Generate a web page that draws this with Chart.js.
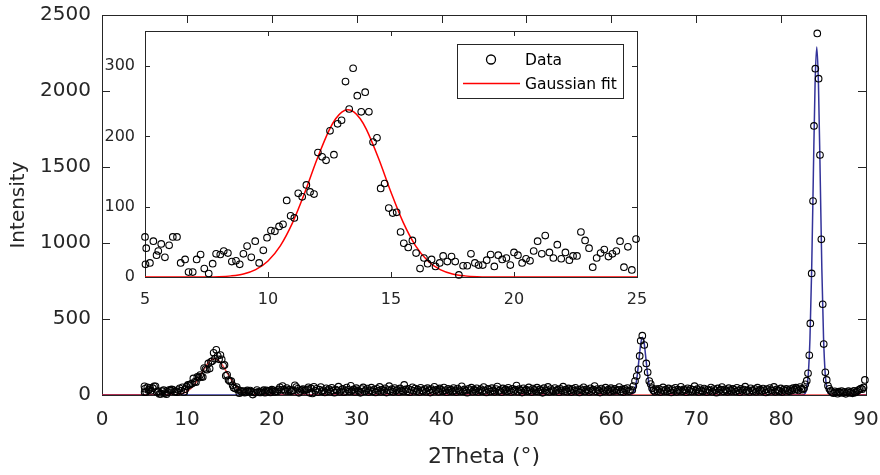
<!DOCTYPE html>
<html>
<head>
<meta charset="utf-8">
<script src="https://cdn.jsdelivr.net/npm/chart.js@4.4.1/dist/chart.umd.min.js"></script>
<style>
  body { margin: 0; background: #fff; }
  #wrap { position: relative; width: 880px; height: 475px; }
  #wrap canvas { position: absolute; left: 0; top: 0; }
</style>
</head>
<body>
<div id="wrap">
  <canvas id="mainChart" width="880" height="475"></canvas>
  <canvas id="insetChart" width="880" height="475"></canvas>
</div>
<script>
// low angle region (also shown in the inset)
var lowTheta = [5.00, 5.02, 5.05, 5.20, 5.34, 5.47, 5.54, 5.66, 5.81, 5.98,
    6.13, 6.30, 6.45, 6.63, 6.77, 6.94, 7.10, 7.26, 7.41, 7.59,
    7.75, 7.89, 8.06, 8.20, 8.37, 8.53, 8.70, 8.85, 9.00, 9.15,
    9.32, 9.48, 9.64, 9.81, 9.96, 10.12, 10.28, 10.45, 10.61, 10.76,
    10.92, 11.07, 11.23, 11.39, 11.56, 11.71, 11.87, 12.03, 12.20, 12.36,
    12.52, 12.68, 12.83, 12.99, 13.15, 13.30, 13.46, 13.63, 13.79, 13.95,
    14.10, 14.27, 14.43, 14.58, 14.74, 14.91, 15.07, 15.23, 15.39, 15.52,
    15.70, 15.87, 16.02, 16.18, 16.34, 16.49, 16.65, 16.81, 16.98, 17.12,
    17.29, 17.46, 17.61, 17.76, 17.93, 18.10, 18.25, 18.41, 18.56, 18.73,
    18.89, 19.05, 19.20, 19.36, 19.52, 19.69, 19.85, 20.00, 20.16, 20.33,
    20.49, 20.65, 20.80, 20.96, 21.13, 21.27, 21.44, 21.60, 21.76, 21.92,
    22.09, 22.25, 22.40, 22.56, 22.72, 22.89, 23.05, 23.20, 23.36, 23.52,
    23.67, 23.84, 24.00, 24.16, 24.31, 24.47, 24.63, 24.79, 24.96];
var lowCounts = [57, 18, 41, 20, 51, 31, 37, 47, 28, 45,
    57, 57, 20, 25, 7, 7, 25, 32, 12, 5,
    19, 33, 32, 37, 34, 22, 23, 18, 33, 44,
    28, 51, 20, 38, 56, 66, 65, 72, 75, 109,
    87, 84, 119, 114, 131, 121, 118, 177, 171, 166,
    208, 174, 218, 223, 278, 239, 297, 258, 235, 263,
    235, 192, 198, 126, 133, 98, 91, 92, 64, 48,
    42, 52, 34, 12, 27, 19, 25, 15, 20, 30,
    22, 29, 22, 3, 16, 16, 33, 20, 17, 17,
    24, 32, 15, 31, 25, 27, 17, 35, 31, 20,
    26, 23, 37, 51, 33, 59, 35, 27, 46, 26,
    35, 24, 30, 30, 64, 52, 41, 14, 27, 34,
    39, 29, 33, 37, 51, 14, 43, 10, 54];

// background between 25 and 62 deg, even steps
var bg1Start = 25.12;
var bgStep = 0.1613;
var bg1Counts = [28, 41, 19, 35, 52, 24, 31, 17, 44, 26, 38, 22, 47, 30, 15, 36, 29, 55, 21, 33,
    40, 18, 27, 49, 34, 23, 61, 29, 37, 20, 45, 31, 26, 14, 39, 50, 25, 33, 42, 19,
    30, 48, 24, 36, 17, 41, 28, 53, 22, 35, 27, 44, 16, 32, 58, 26, 38, 21, 46, 29,
    34, 20, 43, 31, 25, 66, 37, 23, 40, 18, 33, 51, 28, 42, 24, 35, 19, 47, 30, 26,
    39, 22, 45, 32, 16, 38, 27, 54, 29, 36, 21, 43, 34, 25, 49, 31, 18, 40, 28, 35,
    23, 46, 30, 19, 42, 33, 26, 57, 24, 37, 29, 15, 41, 32, 48, 22, 36, 27, 44, 20,
    31, 38, 25, 52, 28, 17, 40, 34, 23, 45, 30, 21, 39, 56, 26, 33, 18, 43, 29, 37,
    24, 47, 32, 20, 41, 27, 35, 62, 22, 38, 30, 16, 44, 28, 36, 25, 50, 31, 19, 42,
    34, 26, 48, 23, 37, 29, 14, 45, 33, 27, 53, 21, 39, 31, 24, 46, 28, 35, 18, 41,
    30, 55, 25, 36, 22, 43, 32, 19, 40, 28, 47, 26, 34, 17, 38, 29, 51, 23, 37, 31,
    20, 44, 27, 35, 59, 24, 39, 30, 16, 42, 33, 25, 48, 29, 36, 21, 45, 32, 26, 40,
    28, 34, 52, 23, 37, 19, 41, 30, 46, 25, 33];

// second peak (~63.7 deg)
var peak2Theta = [62.47, 62.59, 62.79, 62.99, 63.20, 63.34, 63.46, 63.65, 63.88, 64.12, 64.28, 64.47, 64.64];
var peak2Counts = [33, 59, 92, 125, 169, 257, 357, 390, 329, 208, 149, 92, 72];

var bg2Start = 64.80;
var bg2Counts = [45, 30, 22, 38, 27, 41, 19, 33, 50, 26, 36, 24, 43, 31, 17, 39, 28, 47, 21, 35,
    29, 54, 25, 37, 32, 18, 44, 27, 40, 23, 34, 58, 26, 38, 20, 46, 30, 24, 42, 33,
    19, 36, 28, 49, 22, 39, 31, 15, 43, 27, 35, 52, 24, 37, 29, 21, 45, 32, 26, 40,
    34, 23, 47, 30, 18, 41, 28, 36, 55, 25, 33, 20, 44, 31, 27, 39, 22, 48, 29, 35,
    26, 42, 31, 17, 38, 24, 46, 33, 28, 53, 21, 37, 30, 25, 43, 19, 36, 28, 41, 32,
    24, 39, 29, 45, 35, 48, 38, 30, 52, 41, 36, 44];

// main peak (~84.2 deg)
var peak3Theta = [82.85, 83.02, 83.17, 83.32, 83.44, 83.60, 83.76, 83.87, 84.03, 84.26,
    84.42, 84.58, 84.74, 84.90, 85.02, 85.21, 85.37, 85.52];
var peak3Counts = [70, 94, 143, 261, 471, 800, 1276, 1770, 2147, 2379,
    2081, 1579, 1024, 597, 335, 149, 99, 61];

var bg3Start = 85.68;
var bg3Counts = [41, 28, 19, 12, 24, 17, 9, 22, 15, 26, 13, 20, 8, 18, 25, 14, 21, 11, 27, 16,
    23, 31, 36, 42, 38, 50, 99];

// Gaussian fit of the first peak (red)
var fitTheta = [0, 5, 7, 8, 8.5, 9, 9.5, 10, 10.5, 11, 11.5, 12, 12.5, 12.75, 13, 13.25,
    13.5, 13.75, 14, 14.5, 15, 15.5, 16, 16.5, 17, 17.5, 18, 18.5, 19.5, 25, 90];
var fitCounts = [0, 0, 0, 0.5, 1.6, 4.3, 10.5, 22.8, 44.3, 77.3, 120.5, 168.2, 210.0, 225.1, 234.7, 238,
    234.7, 225.1, 210.0, 168.2, 120.5, 77.3, 44.3, 22.8, 10.5, 4.3, 1.6, 0.5, 0, 0, 0];

// fits of the two high angle peaks (blue)
var peakFitTheta = [0, 61.9, 62.07, 62.27, 62.47, 62.67, 62.87, 63.07, 63.27, 63.47, 63.67,
    63.87, 64.07, 64.27, 64.47, 64.67, 64.87, 65.07, 65.27, 65.5,
    82.4, 82.6, 82.8, 83.0, 83.2, 83.4, 83.6, 83.8, 84.0, 84.2,
    84.4, 84.6, 84.8, 85.0, 85.2, 85.4, 85.6, 85.8, 86.0, 90];
var peakFitCounts = [0, 0, 0.3, 1.5, 6.4, 22, 62, 137, 241, 339, 380,
    339, 241, 137, 62, 22, 6.4, 1.5, 0.3, 0,
    0, 1.6, 8.9, 39, 135, 373, 825, 1455, 2044, 2290,
    2044, 1455, 825, 373, 135, 39, 8.9, 1.6, 0, 0];

var mainXTicks = [0, 10, 20, 30, 40, 50, 60, 70, 80, 90];
var mainYTicks = [0, 500, 1000, 1500, 2000, 2500];
var insetXTicks = [5, 10, 15, 20, 25];
var insetYTicks = [0, 100, 200, 300];

var xTitle = '2Theta (°)';
var yTitle = 'Intensity';
var dataLabel = 'Data';
var fitLabel = 'Gaussian fit';

var axisColor = '#262626';
var fontFamily = '"DejaVu Sans", sans-serif';

function toPoints(xs, ys) {
    return ys.map(function (v, i) { return { x: xs[i], y: v }; });
}

function gridPoints(start, step, ys) {
    return ys.map(function (v, i) { return { x: +(start + i * step).toFixed(2), y: v }; });
}

function setTicks(values) {
    return function (scale) {
        scale.ticks = values.map(function (v) { return { value: v }; });
    };
}

function plainLabel(v) {
    return String(v);
}

// fixed axis size, and no extra padding so the plot box lands where the layout says
function fitTo(prop, size) {
    return function (s) {
        s[prop] = size;
        s.paddingTop = 0; s.paddingBottom = 0; s.paddingLeft = 0; s.paddingRight = 0;
    };
}

// box around the plot with ticks pointing inwards (matlab style)
function boxPlugin(len) {
    return {
        id: 'boxTicks',
        beforeDatasetsDraw: function (chart) {
            var ctx = chart.ctx, a = chart.chartArea;
            var xs = chart.scales.x, ys = chart.scales.y;
            ctx.save();
            ctx.strokeStyle = axisColor;
            ctx.lineWidth = 1;
            ctx.beginPath();
            xs.ticks.forEach(function (t) {
                var px = Math.round(xs.getPixelForValue(t.value)) + 0.5;
                ctx.moveTo(px, a.bottom); ctx.lineTo(px, a.bottom - len);
                ctx.moveTo(px, a.top); ctx.lineTo(px, a.top + len);
            });
            ys.ticks.forEach(function (t) {
                var py = Math.round(ys.getPixelForValue(t.value)) + 0.5;
                ctx.moveTo(a.left, py); ctx.lineTo(a.left + len, py);
                ctx.moveTo(a.right, py); ctx.lineTo(a.right - len, py);
            });
            ctx.stroke();
            ctx.strokeRect(a.left + 0.5, a.top + 0.5, a.right - a.left, a.bottom - a.top);
            ctx.restore();
        }
    };
}

var whiteBack = {
    id: 'whiteBack',
    beforeDraw: function (chart) {
        var a = chart.chartArea;
        chart.ctx.save();
        chart.ctx.fillStyle = '#fff';
        chart.ctx.fillRect(a.left, a.top, a.right - a.left, a.bottom - a.top);
        chart.ctx.restore();
    }
};

var insetLegend = {
    id: 'insetLegend',
    afterDraw: function (chart) {
        var ctx = chart.ctx, a = chart.chartArea;
        var bx = a.right - 180, by = a.top + 13, bw = 166, bh = 54;
        var ds = chart.data.datasets;
        ctx.save();
        ctx.fillStyle = '#fff';
        ctx.fillRect(bx, by, bw, bh);
        ctx.strokeStyle = axisColor;
        ctx.lineWidth = 1;
        ctx.strokeRect(bx + 0.5, by + 0.5, bw, bh);
        ctx.beginPath();
        ctx.arc(bx + 34, by + 15.5, 4.5, 0, 2 * Math.PI);
        ctx.strokeStyle = '#000';
        ctx.lineWidth = 1.3;
        ctx.stroke();
        ctx.beginPath();
        ctx.moveTo(bx + 6, by + 39.5);
        ctx.lineTo(bx + 63, by + 39.5);
        ctx.strokeStyle = ds[1].borderColor;
        ctx.lineWidth = 1.5;
        ctx.stroke();
        ctx.fillStyle = '#000';
        ctx.font = '15.5px ' + fontFamily;
        ctx.textBaseline = 'middle';
        ctx.fillText(ds[0].label, bx + 68, by + 17);
        ctx.fillText(ds[1].label, bx + 68, by + 41);
        ctx.restore();
    }
};

var allPoints = toPoints(lowTheta, lowCounts)
    .concat(gridPoints(bg1Start, bgStep, bg1Counts))
    .concat(toPoints(peak2Theta, peak2Counts))
    .concat(gridPoints(bg2Start, bgStep, bg2Counts))
    .concat(toPoints(peak3Theta, peak3Counts))
    .concat(gridPoints(bg3Start, bgStep, bg3Counts));

var markerStyle = {
    showLine: false,
    pointStyle: 'circle',
    pointRadius: 3.3,
    pointBorderWidth: 1.1,
    pointBorderColor: '#000',
    pointBackgroundColor: 'rgba(0,0,0,0)',
    clip: false
};

new Chart(document.getElementById('mainChart'), {
    type: 'scatter',
    data: {
        datasets: [
            Object.assign({ label: dataLabel, data: allPoints, order: 0 }, markerStyle),
            {
                label: fitLabel,
                data: toPoints(fitTheta, fitCounts),
                showLine: true,
                borderColor: 'rgba(230,0,0,0.72)',
                borderWidth: 1.5,
                pointRadius: 0,
                cubicInterpolationMode: 'monotone',
                order: 1
            },
            {
                label: 'Peak fit',
                data: toPoints(peakFitTheta, peakFitCounts),
                showLine: true,
                borderColor: '#33339a',
                borderWidth: 1.5,
                pointRadius: 0,
                cubicInterpolationMode: 'monotone',
                order: 2
            }
        ]
    },
    options: {
        responsive: false,
        animation: false,
        layout: { padding: { left: 0, top: 15, right: 14, bottom: 0 } },
        plugins: { legend: { display: false }, tooltip: { enabled: false } },
        scales: {
            x: {
                type: 'linear', min: 0, max: 90,
                afterBuildTicks: setTicks(mainXTicks),
                afterFit: fitTo('height', 80),
                grid: { display: false, drawTicks: false },
                border: { display: false },
                ticks: { color: axisColor, padding: 13, callback: plainLabel, font: { family: fontFamily, size: 20 }, maxRotation: 0 },
                title: { display: true, text: xTitle, color: axisColor, font: { family: fontFamily, size: 22 }, padding: { top: 0, bottom: 5 } }
            },
            y: {
                type: 'linear', min: 0, max: 2500,
                afterBuildTicks: setTicks(mainYTicks),
                afterFit: fitTo('width', 102),
                grid: { display: false, drawTicks: false },
                border: { display: false },
                ticks: { color: axisColor, padding: 11, callback: plainLabel, font: { family: fontFamily, size: 20 } },
                title: { display: true, text: yTitle, color: axisColor, font: { family: fontFamily, size: 20 }, padding: { top: 7, bottom: 0 } }
            }
        }
    },
    plugins: [boxPlugin(8)]
});

new Chart(document.getElementById('insetChart'), {
    type: 'scatter',
    data: {
        datasets: [
            Object.assign({ label: dataLabel, data: toPoints(lowTheta, lowCounts), order: 0 }, markerStyle),
            {
                label: fitLabel,
                data: toPoints(fitTheta, fitCounts),
                showLine: true,
                borderColor: '#ff0000',
                borderWidth: 1.5,
                pointRadius: 0,
                cubicInterpolationMode: 'monotone',
                order: 1
            }
        ]
    },
    options: {
        responsive: false,
        animation: false,
        layout: { padding: { left: 0, top: 31, right: 243, bottom: 0 } },
        plugins: { legend: { display: false }, tooltip: { enabled: false } },
        scales: {
            x: {
                type: 'linear', min: 5, max: 25,
                afterBuildTicks: setTicks(insetXTicks),
                afterFit: fitTo('height', 198),
                grid: { display: false, drawTicks: false },
                border: { display: false },
                ticks: { color: axisColor, padding: 13, callback: plainLabel, font: { family: fontFamily, size: 16 }, maxRotation: 0 }
            },
            y: {
                type: 'linear', min: 0, max: 350,
                afterBuildTicks: setTicks(insetYTicks),
                afterFit: fitTo('width', 145),
                grid: { display: false, drawTicks: false },
                border: { display: false },
                ticks: { color: axisColor, padding: 10, callback: plainLabel, font: { family: fontFamily, size: 16 } }
            }
        }
    },
    plugins: [whiteBack, boxPlugin(5), insetLegend]
});
</script>
</body>
</html>
